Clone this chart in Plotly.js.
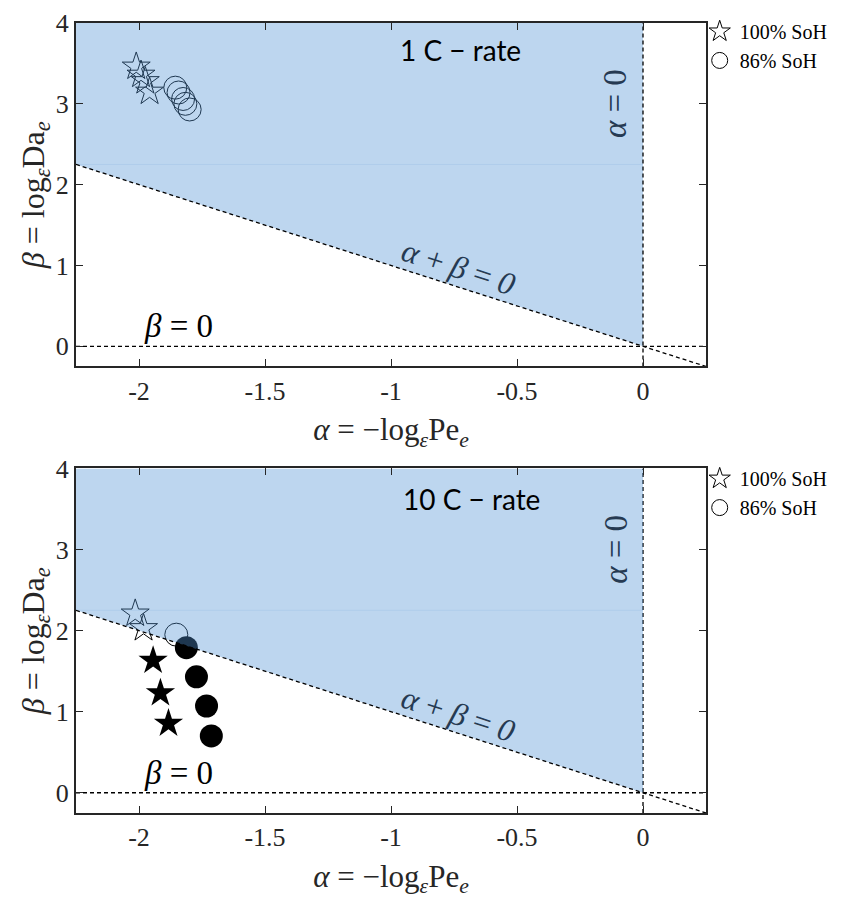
<!DOCTYPE html>
<html>
<head>
<meta charset="utf-8">
<script src="https://cdn.plot.ly/plotly-3.0.1.min.js"></script>
<style>html,body{margin:0;padding:0;background:#fff;}#chart{width:854px;height:901px;}</style>
</head>
<body>
<div id="chart"></div>
<script>
// ---- data ----
const xTickVals = [-2, -1.5, -1, -0.5, 0];
const xTickText = ['-2', '-1.5', '-1', '-0.5', '0'];
const yTickVals = [0, 1, 2, 3, 4];
const yTickText = ['0', '1', '2', '3', '4'];
const legendNames = ['100% SoH', '86% SoH'];
const panelLabels = ['1 C \u2212 rate', '10 C \u2212 rate'];

// 1 C-rate
const c1StarAlpha = [-2.011, -1.992, -1.975, -1.958];
const c1StarBeta  = [3.46, 3.36, 3.28, 3.15];
const c1CircAlpha = [-1.856, -1.843, -1.825, -1.816, -1.799];
const c1CircBeta  = [3.20, 3.14, 3.06, 3.00, 2.93];

// 10 C-rate
const c10StarOpenAlpha = [-2.015, -1.982];
const c10StarOpenBeta  = [2.21, 2.03];
const c10CircOpenAlpha = [-1.852];
const c10CircOpenBeta  = [1.95];
const c10StarFillAlpha = [-1.944, -1.915, -1.883];
const c10StarFillBeta  = [1.63, 1.23, 0.855];
const c10CircFillAlpha = [-1.812, -1.772, -1.732, -1.713];
const c10CircFillBeta  = [1.79, 1.43, 1.07, 0.70];

// region boundaries
const xMin = -2.25, xMax = 0.25, yMin = -0.25, yMax = 4;
const regionX = [xMin, 0, 0, xMin, xMin];
const regionY = [-xMin, 0, yMax, yMax, -xMin];

const FILL = 'rgba(80,147,213,0.375)';
const UNDER = '#263a52';
const AX = '#262626';
const SERIF = 'Liberation Serif';
const SANS = 'Lato';

function panel(xa, ya, data, vlineAbove) {
  const traces = [];
  const dash = '4px,3px';
  if (!vlineAbove) {
    traces.push({x:[0,0], y:[yMin,yMax], xaxis:xa, yaxis:ya, mode:'lines', line:{color:'#000',width:1.3,dash:dash}, showlegend:false, hoverinfo:'skip'});
  }
  data.forEach(d => traces.push(Object.assign({xaxis:xa, yaxis:ya, mode:'markers', hoverinfo:'skip'}, d)));
  traces.push({x:regionX, y:regionY, xaxis:xa, yaxis:ya, mode:'lines', fill:'toself', fillcolor:FILL, line:{width:0}, showlegend:false, hoverinfo:'skip'});
  traces.push({x:[xMin,0], y:[-xMin,-xMin], xaxis:xa, yaxis:ya, mode:'lines', line:{color:'rgba(80,147,213,0.12)',width:1}, showlegend:false, hoverinfo:'skip'});
  traces.push({x:[xMin,xMax], y:[-xMin,-xMax], xaxis:xa, yaxis:ya, mode:'lines', line:{color:'#000',width:1.3,dash:dash}, showlegend:false, hoverinfo:'skip'});
  traces.push({x:[xMin,xMax], y:[0,0], xaxis:xa, yaxis:ya, mode:'lines', line:{color:'#000',width:1.3,dash:dash}, showlegend:false, hoverinfo:'skip'});
  if (vlineAbove) {
    traces.push({x:[0,0], y:[yMin,yMax], xaxis:xa, yaxis:ya, mode:'lines', line:{color:'#000',width:1.3,dash:dash}, showlegend:false, hoverinfo:'skip'});
  }
  return traces;
}

const traces1 = panel('x', 'y', [
  {x:c1StarAlpha, y:c1StarBeta, name:legendNames[0], legend:'legend', marker:{symbol:'star-open', size:21, color:'#000', line:{width:1}}},
  {x:c1CircAlpha, y:c1CircBeta, name:legendNames[1], legend:'legend', marker:{symbol:'circle-open', size:23, color:'#000', line:{width:1}}}
], true);
const traces2 = panel('x2', 'y2', [
  {x:c10StarOpenAlpha, y:c10StarOpenBeta, name:legendNames[0], legend:'legend2', marker:{symbol:'star-open', size:21, color:'#000', line:{width:1}}},
  {x:c10CircOpenAlpha, y:c10CircOpenBeta, name:legendNames[1], legend:'legend2', marker:{symbol:'circle-open', size:23, color:'#000', line:{width:1}}},
  {x:c10StarFillAlpha, y:c10StarFillBeta, showlegend:false, marker:{symbol:'star', size:22, color:'#000', line:{width:0}}},
  {x:c10CircFillAlpha, y:c10CircFillBeta, showlegend:false, marker:{symbol:'circle', size:23, color:'#000', line:{width:0}}}
], false);

function xAxis(anchor) {
  return {
    anchor: anchor, domain:[0,1], range:[xMin,xMax],
    tickmode:'array', tickvals:xTickVals, ticktext:xTickText,
    ticks:'inside', ticklen:7, tickwidth:1, tickcolor:AX,
    showline:true, linewidth:2, linecolor:AX, mirror:'ticks',
    showgrid:false, zeroline:false,
    tickfont:{family:SERIF, size:26, color:AX},
    title:{text:'<i>α</i> = \u2212log<sub><i>ε</i></sub>Pe<sub><i>e</i></sub>', font:{family:SERIF, size:31, color:AX}, standoff:14}
  };
}
function yAxis(anchor, domain) {
  return {
    anchor: anchor, domain:domain, range:[yMin,yMax],
    tickmode:'array', tickvals:yTickVals, ticktext:yTickText,
    ticks:'inside', ticklen:7, tickwidth:1, tickcolor:AX,
    showline:true, linewidth:2, linecolor:AX, mirror:'ticks',
    showgrid:false, zeroline:false,
    tickfont:{family:SERIF, size:26, color:AX},
    title:{text:'<i>β</i> = log<sub><i>ε</i></sub>Da<sub><i>e</i></sub>', font:{family:SERIF, size:32, color:AX}, standoff:2}
  };
}

function notes(xr, yr, label, lx, ly) {
  return [
    {xref:xr, yref:yr, x:lx, y:ly, text:label, showarrow:false, font:{family:SANS, size:28, color:'#000'}},
    {xref:xr, yref:yr, x:-0.11, y:3.0, text:'<i>α</i> = 0', textangle:-90, showarrow:false, font:{family:SERIF, size:33, color:UNDER}},
    {xref:xr, yref:yr, x:-0.733, y:0.975, text:'<i>α</i> + <i>β</i> = <i>0</i>', textangle:18, showarrow:false, font:{family:SERIF, size:32, color:UNDER}},
    {xref:xr, yref:yr, x:-1.844, y:0.245, text:'<i>β</i> = 0', showarrow:false, font:{family:SERIF, size:33, color:'#000'}}
  ];
}

const legendFont = {family:SERIF, size:20, color:'#000'};
const layout = {
  width:854, height:901,
  font:{family:SERIF, color:AX},
  margin:{l:76, r:148, t:15, b:88},
  paper_bgcolor:'#fff', plot_bgcolor:'#fff',
  xaxis: xAxis('y'),
  yaxis: yAxis('x', [0.5652, 1]),
  xaxis2: xAxis('y2'),
  yaxis2: yAxis('x2', [0, 0.4361]),
  legend:{x:0.99, y:1.014, xanchor:'left', yanchor:'top', bgcolor:'rgba(0,0,0,0)', borderwidth:0, font:legendFont, itemsizing:'trace', tracegroupgap:0},
  legend2:{x:0.99, y:0.448, xanchor:'left', yanchor:'top', bgcolor:'rgba(0,0,0,0)', borderwidth:0, font:legendFont, itemsizing:'trace', tracegroupgap:0},
  annotations: notes('x', 'y', panelLabels[0], -0.725, 3.67).concat(notes('x2', 'y2', panelLabels[1], -0.68, 3.62)),
  showlegend:true
};

Plotly.newPlot('chart', traces1.concat(traces2), layout, {displayModeBar:false, staticPlot:true});
</script>
</body>
</html>
